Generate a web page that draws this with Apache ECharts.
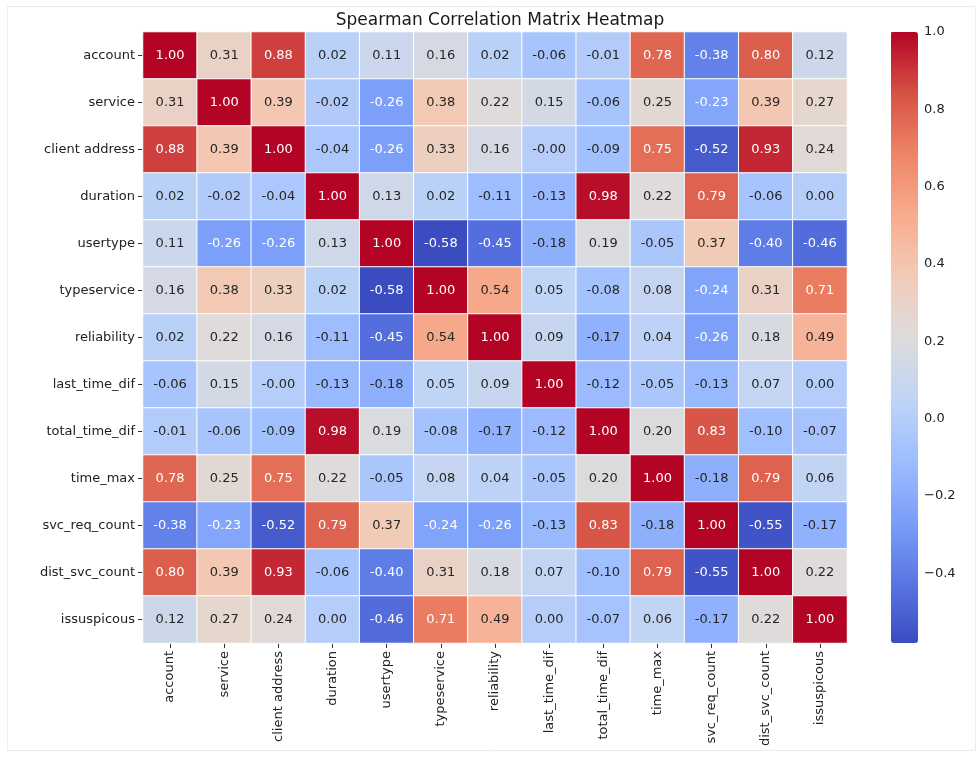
<!DOCTYPE html>
<html>
<head>
<meta charset="utf-8">
<script src="https://cdn.jsdelivr.net/npm/echarts@6/dist/echarts.min.js"></script>
<style>
  html, body { margin: 0; padding: 0; background: #fff; }
  #chart { width: 978px; height: 757px; }
</style>
</head>
<body>
<div id="chart"></div>
<script>
// Feature names (rows and columns of the matrix)
const features = [
  'account', 'service', 'client address', 'duration', 'usertype',
  'typeservice', 'reliability', 'last_time_dif', 'total_time_dif',
  'time_max', 'svc_req_count', 'dist_svc_count', 'issuspicous'
];

// Spearman correlation coefficients, one array per row
const rowAccount      = [1.00, 0.31, 0.88, 0.02, 0.11, 0.16, 0.02, -0.06, -0.01, 0.78, -0.38, 0.80, 0.12];
const rowService      = [0.31, 1.00, 0.39, -0.02, -0.26, 0.38, 0.22, 0.15, -0.06, 0.25, -0.23, 0.39, 0.27];
const rowClientAddr   = [0.88, 0.39, 1.00, -0.04, -0.26, 0.33, 0.16, -0.00, -0.09, 0.75, -0.52, 0.93, 0.24];
const rowDuration     = [0.02, -0.02, -0.04, 1.00, 0.13, 0.02, -0.11, -0.13, 0.98, 0.22, 0.79, -0.06, 0.00];
const rowUsertype     = [0.11, -0.26, -0.26, 0.13, 1.00, -0.58, -0.45, -0.18, 0.19, -0.05, 0.37, -0.40, -0.46];
const rowTypeservice  = [0.16, 0.38, 0.33, 0.02, -0.58, 1.00, 0.54, 0.05, -0.08, 0.08, -0.24, 0.31, 0.71];
const rowReliability  = [0.02, 0.22, 0.16, -0.11, -0.45, 0.54, 1.00, 0.09, -0.17, 0.04, -0.26, 0.18, 0.49];
const rowLastTimeDif  = [-0.06, 0.15, -0.00, -0.13, -0.18, 0.05, 0.09, 1.00, -0.12, -0.05, -0.13, 0.07, 0.00];
const rowTotalTimeDif = [-0.01, -0.06, -0.09, 0.98, 0.19, -0.08, -0.17, -0.12, 1.00, 0.20, 0.83, -0.10, -0.07];
const rowTimeMax      = [0.78, 0.25, 0.75, 0.22, -0.05, 0.08, 0.04, -0.05, 0.20, 1.00, -0.18, 0.79, 0.06];
const rowSvcReqCount  = [-0.38, -0.23, -0.52, 0.79, 0.37, -0.24, -0.26, -0.13, 0.83, -0.18, 1.00, -0.55, -0.17];
const rowDistSvcCount = [0.80, 0.39, 0.93, -0.06, -0.40, 0.31, 0.18, 0.07, -0.10, 0.79, -0.55, 1.00, 0.22];
const rowIssuspicous  = [0.12, 0.27, 0.24, 0.00, -0.46, 0.71, 0.49, 0.00, -0.07, 0.06, -0.17, 0.22, 1.00];

const matrix = [
  rowAccount, rowService, rowClientAddr, rowDuration, rowUsertype,
  rowTypeservice, rowReliability, rowLastTimeDif, rowTotalTimeDif,
  rowTimeMax, rowSvcReqCount, rowDistSvcCount, rowIssuspicous
];

// Colour scale limits and colour bar ticks
const scaleMin = -0.58;
const scaleMax = 1.0;
const colorbarTicks = [-0.4, -0.2, 0.0, 0.2, 0.4, 0.6, 0.8, 1.0];

// coolwarm palette
const coolwarm = ['#3b4cc0', '#5977e3', '#7b9ff9', '#9ebeff', '#c0d4f5', '#dddcdc',
                  '#f2cbb7', '#f7ac8e', '#ee8468', '#d65244', '#b40426'];

const FONT = 'DejaVu Sans';

function fmtCell(v) {
  const neg = v < 0 || Object.is(v, -0);
  return (neg ? '-' : '') + Math.abs(v).toFixed(2);
}

// Heatmap cells: [column, row, value], text colour switches on dark cells
const cells = [];
matrix.forEach((row, r) => {
  row.forEach((v, c) => {
    const dark = v >= 0.6 || v <= -0.2;
    cells.push({
      value: [c, r, v],
      label: { color: dark ? '#ffffff' : '#262626' }
    });
  });
});

const chart = echarts.init(document.getElementById('chart'), null, { renderer: 'canvas' });

const grid = { left: 143, top: 32, width: 704, height: 611 };
const barGrid = { left: 891, top: 32, width: 27, height: 611 };

chart.setOption({
  backgroundColor: '#ffffff',
  animation: false,
  title: {
    text: 'Spearman Correlation Matrix Heatmap',
    left: grid.left + grid.width / 2,
    textAlign: 'center',
    top: 7,
    textStyle: { fontFamily: FONT, fontSize: 17, fontWeight: 'normal', color: '#1a1a1a' }
  },
  graphic: [{
    type: 'rect',
    shape: { x: 7.5, y: 6.5, width: 968, height: 744 },
    style: { fill: 'none', stroke: '#ececec', lineWidth: 1 },
    silent: true
  }],
  grid: [
    { left: grid.left, top: grid.top, width: grid.width, height: grid.height },
    { left: barGrid.left, top: barGrid.top, width: barGrid.width, height: barGrid.height }
  ],
  xAxis: [{
    type: 'category',
    gridIndex: 0,
    data: features,
    position: 'bottom',
    axisLine: { show: false },
    axisTick: { show: true, length: 5, alignWithLabel: true, lineStyle: { color: '#333' } },
    axisLabel: { rotate: 90, fontFamily: FONT, fontSize: 13, color: '#222', margin: 8, interval: 0 },
    splitLine: { show: false }
  }, {
    type: 'value',
    gridIndex: 1,
    show: false
  }],
  yAxis: [{
    type: 'category',
    gridIndex: 0,
    data: features,
    inverse: true,
    axisLine: { show: false },
    axisTick: { show: true, length: 5, alignWithLabel: true, lineStyle: { color: '#333' } },
    axisLabel: { fontFamily: FONT, fontSize: 13, color: '#222', margin: 8, interval: 0 },
    splitLine: { show: false }
  }, {
    type: 'value',
    gridIndex: 1,
    position: 'right',
    min: scaleMin,
    max: scaleMax,
    axisLine: { show: false },
    splitLine: { show: false },
    axisTick: {
      show: true, length: 4, inside: false,
      customValues: colorbarTicks,
      lineStyle: { color: '#333' }
    },
    axisLabel: {
      show: true, margin: 6,
      customValues: colorbarTicks,
      fontFamily: FONT, fontSize: 13, color: '#222',
      formatter: v => (v < -1e-9 ? '\u2212' : '') + Math.abs(v).toFixed(1)
    }
  }],
  visualMap: {
    type: 'continuous',
    seriesIndex: 0,
    min: scaleMin,
    max: scaleMax,
    calculable: false,
    orient: 'vertical',
    left: barGrid.left,
    top: barGrid.top,
    itemWidth: barGrid.width,
    itemHeight: barGrid.height,
    padding: 0,
    textGap: 0,
    text: ['', ''],
    inRange: { color: coolwarm },
    hoverLink: false
  },
  series: [{
    type: 'heatmap',
    xAxisIndex: 0,
    yAxisIndex: 0,
    data: cells,
    label: {
      show: true,
      fontFamily: FONT,
      fontSize: 13,
      formatter: p => fmtCell(p.value[2])
    },
    itemStyle: { borderColor: '#ffffff', borderWidth: 1 },
    emphasis: { disabled: true }
  }]
});
</script>
</body>
</html>
